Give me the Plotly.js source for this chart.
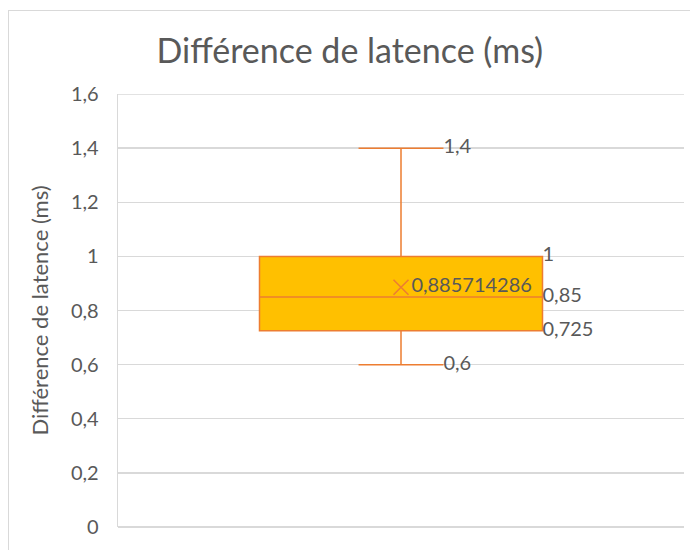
<!DOCTYPE html>
<html>
<head>
<meta charset="utf-8">
<script src="https://cdn.plot.ly/plotly-3.0.1.min.js"></script>
<style>
  html, body { margin: 0; padding: 0; background: #ffffff; overflow: hidden; }
  #frame { position: absolute; left: 8px; top: 10px; width: 800px; height: 700px;
           border-left: 1px solid #d9d9d9; border-top: 1px solid #d9d9d9; }
  #chart { position: absolute; left: 0; top: 0; width: 690px; height: 550px; }
</style>
</head>
<body>
<div id="frame"></div>
<div id="chart"></div>
<script>
// ---- data ----
const chartTitle = "Différence de latence (ms)";
const yAxisTitle = "Différence de latence (ms)";
const seriesName = "Différence de latence (ms)";
const lowerFence = [0.6];
const q1Values = [0.725];
const medianValues = [0.85];
const q3Values = [1];
const upperFence = [1.4];
const meanValues = [0.885714286];
const yTickValues = [0, 0.2, 0.4, 0.6, 0.8, 1, 1.2, 1.4, 1.6];

// ---- helpers ----
const fmt = v => String(v).replace('.', ',');
const orange = '#ED7D31';
const gridColor = '#d9d9d9';
const txtColor = '#595959';
const fontFam = 'Lato, Carlito, Calibri, sans-serif';
const labelSize = 20;
const yMax = yTickValues[yTickValues.length - 1];

const boxTrace = {
  type: 'box',
  name: seriesName,
  x: [0],
  q1: q1Values,
  median: medianValues,
  q3: q3Values,
  lowerfence: lowerFence,
  upperfence: upperFence,
  width: 1,
  whiskerwidth: 0.3,
  fillcolor: '#FFC000',
  line: { color: orange, width: 1.5 },
  boxpoints: false,
  hoverinfo: 'skip',
  showlegend: false
};

const meanTrace = {
  type: 'scatter',
  mode: 'markers+text',
  x: [0],
  y: meanValues,
  text: meanValues.map(fmt),
  textposition: 'middle right',
  textfont: { family: fontFam, size: labelSize, color: txtColor },
  marker: { symbol: 'x-thin-open', size: 15, line: { color: orange, width: 1.6 }, color: orange },
  hoverinfo: 'skip',
  showlegend: false,
  cliponaxis: false
};

const whiskerLabels = {
  type: 'scatter',
  mode: 'text',
  x: [0.15, 0.15],
  y: [upperFence[0], lowerFence[0]],
  text: [fmt(upperFence[0]), fmt(lowerFence[0])],
  textposition: 'middle right',
  textfont: { family: fontFam, size: labelSize, color: txtColor },
  hoverinfo: 'skip',
  showlegend: false,
  cliponaxis: false
};

const boxLabels = {
  type: 'scatter',
  mode: 'text',
  x: [0.5, 0.5, 0.5],
  y: [q3Values[0], medianValues[0], q1Values[0]],
  text: [fmt(q3Values[0]), fmt(medianValues[0]), fmt(q1Values[0])],
  textposition: 'middle right',
  textfont: { family: fontFam, size: labelSize, color: txtColor },
  hoverinfo: 'skip',
  showlegend: false,
  cliponaxis: false
};

const layout = {
  width: 690,
  height: 550,
  paper_bgcolor: 'rgba(0,0,0,0)',
  plot_bgcolor: 'rgba(0,0,0,0)',
  separators: ', ',
  margin: { l: 118, r: 6, t: 94, b: 23 },
  font: { family: fontFam, color: txtColor, size: labelSize },
  title: {
    text: chartTitle,
    font: { family: fontFam, size: 34, color: txtColor },
    x: 0.507, xanchor: 'center',
    y: 0.907, yanchor: 'middle', yref: 'container'
  },
  xaxis: {
    range: [-1, 1],
    showgrid: false, zeroline: false, showticklabels: false,
    ticks: '', showline: false, fixedrange: true
  },
  yaxis: {
    range: [0, yMax],
    tickvals: yTickValues,
    ticktext: yTickValues.map(fmt),
    showgrid: true, gridcolor: gridColor, gridwidth: 1.3,
    zeroline: true, zerolinecolor: gridColor, zerolinewidth: 1.3,
    showline: true, linecolor: gridColor, linewidth: 1.3,
    ticks: '', ticklabelstandoff: 14,
    tickfont: { family: fontFam, size: labelSize, color: txtColor },
    title: { text: yAxisTitle, font: { family: fontFam, size: 22, color: txtColor }, standoff: 16 },
    fixedrange: true
  },
  shapes: [{
    type: 'line', xref: 'paper', yref: 'y',
    x0: 0, x1: 1, y0: yMax, y1: yMax,
    line: { color: gridColor, width: 1.3 },
    layer: 'below'
  }],
  showlegend: false
};

Plotly.newPlot('chart', [boxTrace, meanTrace, whiskerLabels, boxLabels], layout, { staticPlot: true, displayModeBar: false });
</script>
</body>
</html>
